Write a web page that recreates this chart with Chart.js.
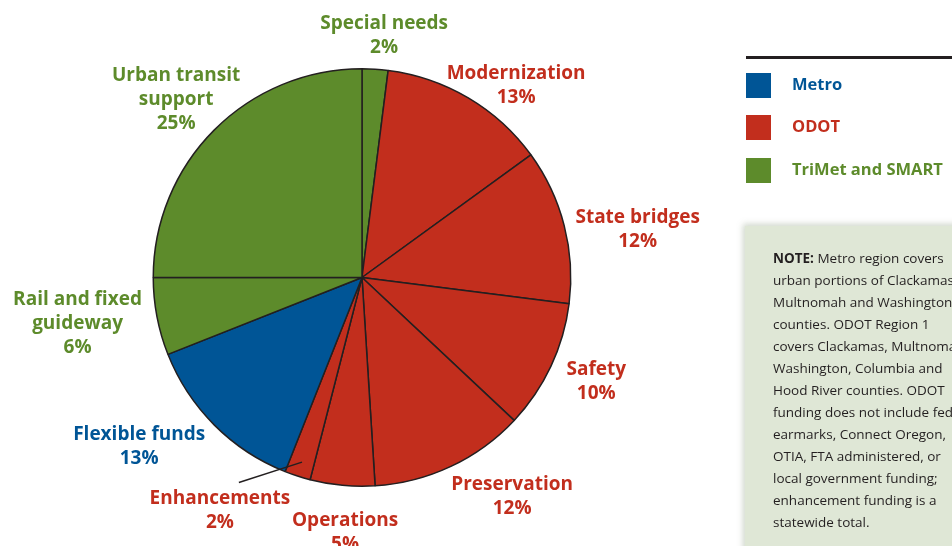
<!DOCTYPE html>
<html>
<head>
<meta charset="utf-8">
<script src="https://cdn.jsdelivr.net/npm/chart.js@4.4.0/dist/chart.umd.min.js"></script>
<style>
  html, body { margin: 0; padding: 0; background: #fff; overflow: hidden; }
  #wrap { position: relative; width: 952px; height: 546px; }
  #wrap canvas { position: absolute; left: 0; top: 0; }
  .rule { position: absolute; left: 746px; top: 56px; width: 206px; height: 3px; background: #231f20; }
  .key { position: absolute; left: 746px; font: bold 16.5px "Open Sans", sans-serif; }
  .key span { display: inline-block; width: 25px; height: 25px; vertical-align: middle; margin-right: 21px; }
  .note { position: absolute; left: 745px; top: 226px; width: 260px; height: 340px;
          background: #dfe7d6; box-shadow: -2px -2px 6px rgba(120,140,110,0.35);
          font: 13.5px/22px "Open Sans", sans-serif; color: #231f20; white-space: nowrap;
          padding: 21px 0 0 28px; box-sizing: border-box; }
</style>
</head>
<body>
<div id="wrap">
  <canvas id="pie" width="952" height="546"></canvas>
  <div class="rule"></div>
  <div class="key" style="top:72px;color:#005596"><span style="background:#005596"></span>Metro</div>
  <div class="key" style="top:114px;color:#c22e1d"><span style="background:#c22e1d"></span>ODOT</div>
  <div class="key" style="top:157px;color:#5d8b2b"><span style="background:#5d8b2b"></span>TriMet and SMART</div>
  <div class="note"><b>NOTE:</b> Metro region covers<br>urban portions of Clackamas,<br>Multnomah and Washington<br>counties. ODOT Region 1<br>covers Clackamas, Multnomah,<br>Washington, Columbia and<br>Hood River counties. ODOT<br>funding does not include federal<br>earmarks, Connect Oregon,<br>OTIA, FTA administered, or<br>local government funding;<br>enhancement funding is a<br>statewide total.</div>
</div>
<script>
// funding categories, clockwise from the top
const categories = ['Special needs', 'Modernization', 'State bridges', 'Safety', 'Preservation',
  'Operations', 'Enhancements', 'Flexible funds', 'Rail and fixed\nguideway', 'Urban transit\nsupport'];
const shares = [2, 13, 12, 10, 12, 5, 2, 13, 6, 25];
const agency = ['TriMet', 'ODOT', 'ODOT', 'ODOT', 'ODOT', 'ODOT', 'ODOT', 'Metro', 'TriMet', 'TriMet'];

const agencyColor = { Metro: '#005596', ODOT: '#c22e1d', TriMet: '#5d8b2b' };
const colors = agency.map(a => agencyColor[a]);

// label placement around the pie: distance from centre and angle tweak (deg)
const labelDist = [244, 247, 280, 256, 265, 255, 272, 279, 288, 258];
const labelShift = [1.6, 8, 4.3, -1.4, -9.3, -1.6, 13.5, 8, 1.8, -1.1];

const sliceLabels = {
  id: 'sliceLabels',
  afterDatasetsDraw(chart) {
    const ctx = chart.ctx;
    const arcs = chart.getDatasetMeta(0).data;
    ctx.save();
    ctx.font = 'bold 19px "Open Sans", sans-serif';
    ctx.textAlign = 'center';
    ctx.textBaseline = 'middle';
    arcs.forEach((arc, i) => {
      const p = arc.getProps(['x', 'y', 'startAngle', 'endAngle', 'outerRadius'], true);
      const mid = (p.startAngle + p.endAngle) / 2;
      const a = mid + labelShift[i] * Math.PI / 180;
      const lx = p.x + Math.cos(a) * labelDist[i];
      const ly = p.y + Math.sin(a) * labelDist[i] + 1;
      const lines = categories[i].split('\n').concat([shares[i] + '%']);
      ctx.fillStyle = colors[i];
      lines.forEach((t, k) => {
        ctx.fillText(t, lx, ly + (k - (lines.length - 1) / 2) * 24);
      });
      // leader line for the thin enhancements slice
      if (categories[i] === 'Enhancements') {
        ctx.strokeStyle = '#231f20';
        ctx.lineWidth = 1.5;
        ctx.beginPath();
        ctx.moveTo(lx + 19, ly - 28);
        ctx.lineTo(p.x + Math.cos(mid) * p.outerRadius * 0.93, p.y + Math.sin(mid) * p.outerRadius * 0.93);
        ctx.stroke();
      }
    });
    ctx.restore();
  }
};

new Chart(document.getElementById('pie'), {
  type: 'pie',
  data: {
    labels: categories,
    datasets: [{
      data: shares,
      backgroundColor: colors,
      borderColor: '#231f20',
      borderWidth: 1.5
    }]
  },
  options: {
    responsive: false,
    animation: false,
    layout: { padding: { left: 152, right: 380, top: 68, bottom: 59 } },
    plugins: {
      legend: { display: false },
      tooltip: { enabled: false }
    }
  },
  plugins: [sliceLabels]
});
</script>
</body>
</html>
